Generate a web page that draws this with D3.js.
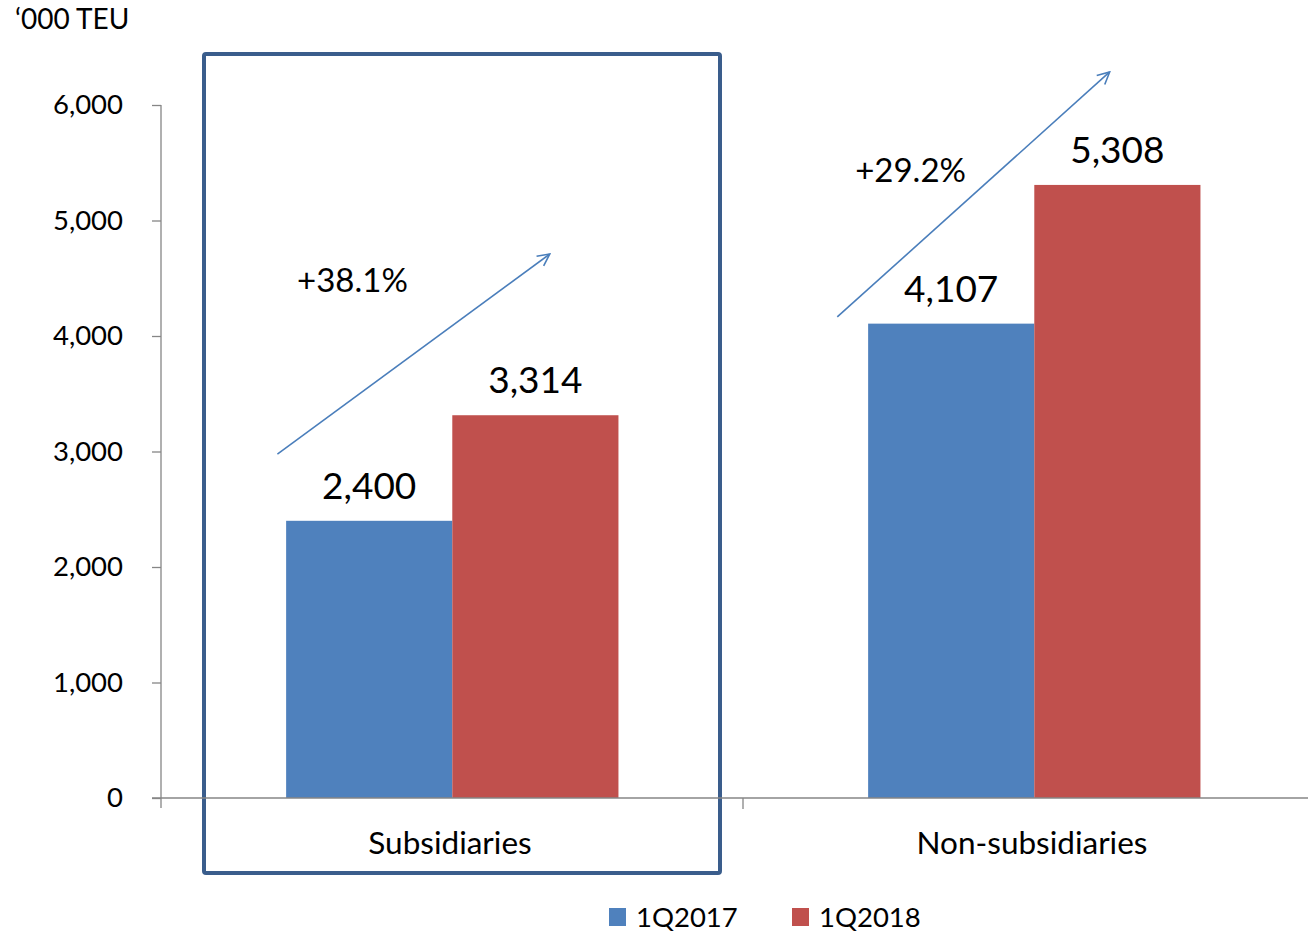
<!DOCTYPE html>
<html>
<head>
<meta charset="utf-8">
<script src="https://cdn.jsdelivr.net/npm/d3@7"></script>
<style>
  html, body { margin: 0; padding: 0; background: #ffffff; }
  svg { display: block; font-family: Lato, "Open Sans", sans-serif; }
</style>
</head>
<body>
<svg id="chart" width="1308" height="932"></svg>
<script>
// Throughput by terminal group, '000 TEU
const categories = ["Subsidiaries", "Non-subsidiaries"];
const seriesNames = ["1Q2017", "1Q2018"];
const values1Q2017 = [2400, 4107];
const values1Q2018 = [3314, 5308];
const growthLabels = ["+38.1%", "+29.2%"];
const yTicks = [0, 1000, 2000, 3000, 4000, 5000, 6000];
const unitLabel = "\u2018000 TEU";

const colors = ["#4F81BD", "#C0504D"];
const axisColor = "#868686";

const svg = d3.select("#chart");

const y = d3.scaleLinear().domain([0, 6000]).range([798, 105]);
const x0 = d3.scaleBand().domain(categories).range([161, 1325]).padding(0);
const bw = x0.bandwidth();
const x1 = d3.scaleBand().domain(seriesNames).range([bw * 0.215, bw * 0.786]).padding(0);

const rows = categories.map((c, i) => ({
  cat: c,
  vals: [values1Q2017[i], values1Q2018[i]]
}));

// Highlight frame around the first group
const b0 = x0(categories[0]);
svg.append("rect")
  .attr("x", b0 + 43).attr("y", 54)
  .attr("width", 516).attr("height", 819)
  .attr("rx", 2)
  .attr("fill", "none")
  .attr("stroke", "#3A5D8C")
  .attr("stroke-width", 4);

// Bars
const g = svg.append("g");
rows.forEach(r => {
  const gg = g.append("g").attr("transform", `translate(${x0(r.cat)},0)`);
  gg.selectAll("rect")
    .data(r.vals.map((v, j) => ({ v, s: seriesNames[j], j })))
    .join("rect")
    .attr("x", d => x1(d.s))
    .attr("y", d => y(d.v))
    .attr("width", x1.bandwidth())
    .attr("height", d => y(0) - y(d.v))
    .attr("fill", d => colors[d.j]);
  gg.selectAll("text.val")
    .data(r.vals.map((v, j) => ({ v, s: seriesNames[j] })))
    .join("text")
    .attr("class", "val")
    .attr("x", d => x1(d.s) + x1.bandwidth() / 2)
    .attr("y", d => y(d.v) - 22)
    .attr("text-anchor", "middle")
    .attr("font-size", 37)
    .attr("fill", "#000")
    .text(d => d3.format(",")(d.v));
});

// Y axis
const yAxis = d3.axisLeft(y).tickValues(yTicks).tickFormat(d3.format(",")).tickSize(9).tickPadding(29);
const ya = svg.append("g").attr("transform", "translate(161,0)").call(yAxis);
ya.select(".domain").remove();
ya.selectAll(".tick line").attr("stroke", axisColor).attr("stroke-width", 1.3);
ya.selectAll(".tick text").attr("font-size", 27.5).attr("fill", "#000").attr("font-family", "Lato, sans-serif");
svg.append("line")
  .attr("x1", 161).attr("x2", 161).attr("y1", y(6000)).attr("y2", 808)
  .attr("stroke", axisColor).attr("stroke-width", 1.3);

// X axis
svg.append("line")
  .attr("x1", 152).attr("x2", 1308).attr("y1", y(0)).attr("y2", y(0))
  .attr("stroke", axisColor).attr("stroke-width", 1.5);
svg.selectAll("line.xtick")
  .data(categories.slice(1))
  .join("line")
  .attr("class", "xtick")
  .attr("x1", d => x0(d)).attr("x2", d => x0(d))
  .attr("y1", y(0)).attr("y2", 809)
  .attr("stroke", axisColor).attr("stroke-width", 1.3);
svg.selectAll("text.cat")
  .data(categories)
  .join("text")
  .attr("class", "cat")
  .attr("x", d => x0(d) + bw / 2 - 2)
  .attr("y", 854)
  .attr("text-anchor", "middle")
  .attr("font-size", 31.5)
  .attr("fill", "#000")
  .text(d => d);

// Unit label
svg.append("text")
  .attr("x", 15).attr("y", 29)
  .attr("font-size", 28)
  .attr("fill", "#000")
  .text(unitLabel);

// Growth arrows (start/end in band fraction and value units)
const arrowStart = [{ fx: 0.200, v: 2978 }, { fx: 0.162, v: 4165 }];
const arrowEnd = [{ fx: 0.668, v: 4710 }, { fx: 0.630, v: 6286 }];
const growthPos = [{ fx: 0.329, v: 4381 }, { fx: 0.288, v: 5333 }];

svg.append("defs").append("marker")
  .attr("id", "arrowHead")
  .attr("viewBox", "0 0 14 14")
  .attr("refX", 13).attr("refY", 7)
  .attr("markerWidth", 14).attr("markerHeight", 14)
  .attr("markerUnits", "userSpaceOnUse")
  .attr("orient", "auto")
  .append("path")
  .attr("d", "M1,1 L13,7 L1,13")
  .attr("fill", "none")
  .attr("stroke", "#4A7EBB")
  .attr("stroke-width", 1.6);

categories.forEach((c, i) => {
  const bx = x0(c);
  svg.append("line")
    .attr("x1", bx + arrowStart[i].fx * bw).attr("y1", y(arrowStart[i].v))
    .attr("x2", bx + arrowEnd[i].fx * bw).attr("y2", y(arrowEnd[i].v))
    .attr("stroke", "#4A7EBB")
    .attr("stroke-width", 1.6)
    .attr("marker-end", "url(#arrowHead)");
  svg.append("text")
    .attr("x", bx + growthPos[i].fx * bw)
    .attr("y", y(growthPos[i].v))
    .attr("text-anchor", "middle")
    .attr("font-size", 33)
    .attr("fill", "#000")
    .text(growthLabels[i]);
});

// Legend
const legend = svg.append("g");
const legendX = [609, 792];
seriesNames.forEach((s, j) => {
  legend.append("rect")
    .attr("x", legendX[j]).attr("y", 908)
    .attr("width", 17).attr("height", 18)
    .attr("fill", colors[j]);
  legend.append("text")
    .attr("x", legendX[j] + 27).attr("y", 927)
    .attr("font-size", 27.5)
    .attr("fill", "#000")
    .text(s);
});
</script>
</body>
</html>
